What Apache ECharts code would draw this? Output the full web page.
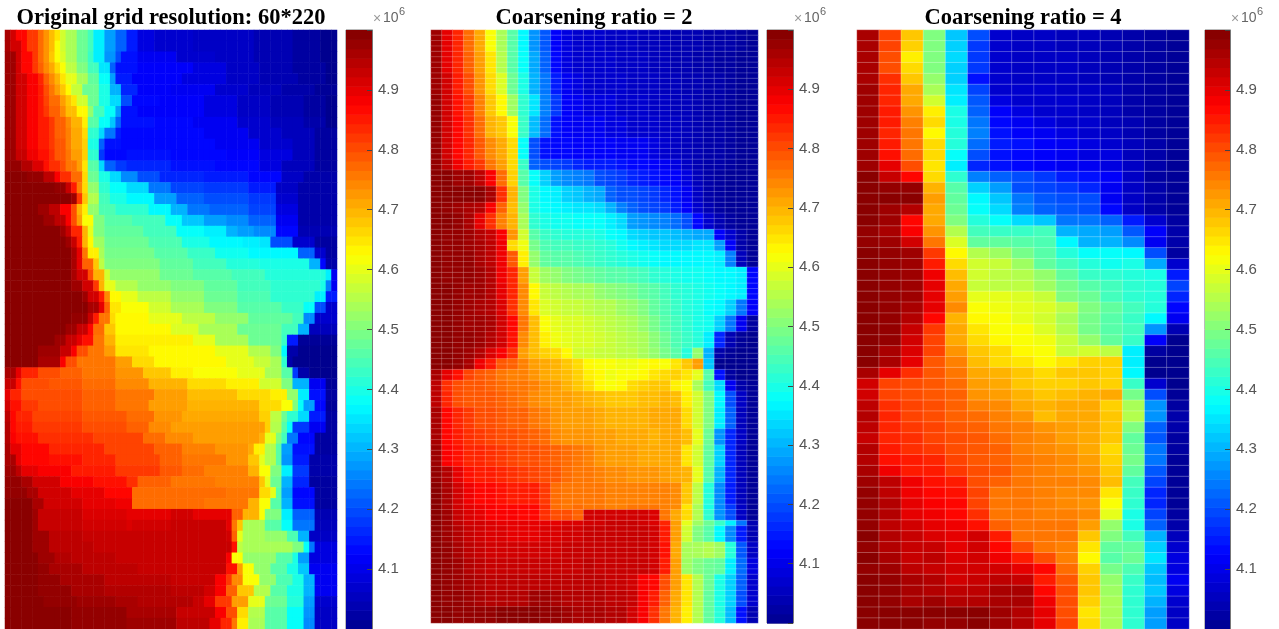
<!DOCTYPE html>
<html><head><meta charset="utf-8">
<style>html,body{margin:0;padding:0;background:#fff;overflow:hidden}#c{width:1279px;height:629px}</style>
<script src="https://cdn.jsdelivr.net/npm/echarts@6/dist/echarts.min.js"></script>
</head><body><div id="c"></div>
<script>
// All cell values: code = (value/1e6 - 4) * 100
const titles = ['Original grid resolution: 60*220','Coarsening ratio = 2','Coarsening ratio = 4'];
const barTicks = [4.1,4.2,4.3,4.4,4.5,4.6,4.7,4.8,4.9];
const jet = ['#00008f','#0000ff','#0080ff','#00ffff','#80ff80','#ffff00','#ff8000','#ff0000','#800000'];

// Panel 1: each row is value,endColumn pairs (60 columns)
const p1Runs = [
[96,1,92,2,87,4,82,6,77,7,73,8,69,9,65,10,58,11,54,13,48,15,44,16,36,18,28,20,22,22,15,24,9,27,7,34,6,45,4,52,2,57,0,60],
[96,1,92,3,87,4,82,6,77,7,73,8,69,9,62,10,58,11,54,13,48,15,44,16,36,18,28,20,22,22,15,24,9,27,7,34,6,45,4,52,2,57,0,60],
[97,2,92,3,87,5,82,6,77,7,73,8,68,9,62,10,59,11,54,13,48,15,43,16,36,18,27,20,20,21,14,24,11,31,7,38,6,45,4,52,2,57,0,60],
[97,2,92,3,87,5,82,6,78,7,74,8,71,9,66,10,62,11,56,13,50,15,44,17,35,19,22,20,14,24,12,34,9,40,6,46,4,52,2,58,0,60],
[97,2,92,4,88,6,84,7,78,8,74,9,70,10,65,11,60,13,54,15,47,17,38,19,28,20,15,23,12,32,9,40,6,46,4,53,2,58,0,60],
[97,2,92,4,88,6,85,7,80,8,76,9,72,10,68,11,63,12,57,14,48,17,40,19,30,21,16,24,12,30,11,38,7,44,5,50,3,56,1,60],
[97,2,92,4,88,6,85,7,81,8,77,10,72,11,68,12,65,13,58,15,48,17,40,19,34,21,20,23,13,28,12,36,9,42,6,48,4,54,2,58,0,60],
[97,2,92,4,88,6,85,7,82,8,78,10,74,11,69,13,63,15,52,16,44,18,38,20,28,21,14,24,12,36,9,42,6,48,4,54,2,58,0,60],
[97,2,92,4,88,6,85,8,82,9,78,11,74,12,70,14,64,15,46,17,38,19,32,20,22,21,14,27,13,34,11,42,7,48,5,54,3,58,0,60],
[97,2,92,4,88,6,85,8,82,9,78,11,75,12,71,14,66,15,42,17,34,18,24,20,15,21,13,36,11,44,7,50,5,56,2,60],
[97,2,92,4,88,6,85,8,82,9,79,11,75,12,71,14,67,15,40,17,22,18,14,21,13,38,11,46,7,52,5,56,2,60],
[97,2,93,4,89,6,86,8,83,9,79,11,76,12,72,14,67,15,42,17,18,18,13,22,14,30,13,40,12,46,9,52,5,56,2,60],
[98,3,95,5,91,7,86,8,83,10,80,11,76,13,72,14,65,15,46,17,34,18,22,20,18,22,16,30,14,38,13,46,9,50,5,56,2,60],
[99,4,98,7,94,9,88,10,83,12,77,14,66,15,48,17,40,19,34,21,26,24,20,28,16,36,15,44,13,50,6,54,3,60],
[99,9,98,11,93,12,85,13,75,14,66,15,52,17,42,19,38,22,34,26,24,30,19,36,18,44,15,49,6,53,3,60],
[99,12,97,13,82,14,68,15,55,17,44,19,40,22,37,27,28,31,22,36,20,44,18,49,7,53,3,60],
[99,6,97,8,94,10,88,12,80,13,70,14,64,15,52,17,45,20,42,26,37,30,30,33,24,37,22,44,19,49,9,53,3,60],
[99,7,97,9,94,11,88,12,80,13,72,14,62,16,50,18,46,23,44,29,38,32,32,36,28,40,26,44,22,49,11,53,3,60],
[99,10,97,11,93,12,84,14,70,15,60,16,50,18,47,25,44,31,38,36,36,40,30,42,28,45,26,49,13,53,4,60],
[99,11,97,12,93,13,85,14,70,15,63,16,53,18,48,26,45,32,40,37,37,43,36,46,35,48,20,52,7,56,2,60],
[99,12,96,13,90,14,76,15,64,17,54,18,49,27,46,33,43,38,39,44,37,53,22,56,7,58,2,60],
[99,12,96,13,90,14,78,16,68,17,56,18,50,28,47,34,44,40,41,46,40,55,30,57,13,58,3,60],
[99,12,96,13,92,15,80,16,70,18,58,19,52,28,48,34,46,41,44,47,41,58,36,59,11,60],
[99,12,97,14,92,16,82,17,70,18,60,20,55,24,52,30,50,36,47,42,44,48,42,57,40,58,25,59,11,60],
[99,14,97,15,92,17,85,18,74,19,63,21,60,24,56,30,52,36,48,42,45,48,42,56,36,58,15,60],
[99,15,96,17,90,18,78,19,65,21,62,26,58,30,54,36,50,42,46,50,43,54,38,56,20,58,7,60],
[99,12,98,15,93,16,85,17,76,19,66,20,63,26,60,32,56,38,52,44,47,52,44,54,26,56,7,60],
[99,11,97,13,93,15,87,16,77,18,68,20,63,30,59,35,54,42,48,50,44,53,30,55,5,60],
[99,9,97,11,93,13,90,14,86,16,76,18,70,20,64,34,60,38,54,44,48,50,43,51,15,53,1,60],
[99,6,97,10,93,12,88,13,80,15,76,18,72,20,65,26,63,38,60,44,55,48,50,50,37,51,3,53,0,60],
[99,6,96,10,88,11,80,13,76,20,72,23,66,27,63,40,60,45,57,48,54,50,42,51,3,52,0,60],
[96,2,90,3,84,6,80,10,78,14,76,20,73,25,68,30,64,34,62,42,60,47,54,50,46,52,18,53,3,55,0,60],
[93,2,86,3,80,8,79,14,77,20,74,26,70,33,66,40,64,46,58,50,50,52,30,55,11,58,1,60],
[90,1,84,3,80,14,78,20,76,27,72,33,69,42,66,48,64,51,52,53,36,55,14,58,2,60],
[92,1,86,3,82,6,80,14,78,20,76,26,72,33,70,46,66,50,62,52,50,53,38,54,28,56,13,58,1,60],
[94,1,87,2,84,5,81,14,79,22,77,27,73,32,71,46,67,48,56,50,48,51,42,53,34,55,15,58,2,60],
[95,1,87,2,85,5,82,14,80,22,78,26,74,30,72,47,67,48,55,50,46,51,38,52,18,55,11,58,2,60],
[95,1,88,2,86,6,83,16,81,25,77,29,74,34,72,46,70,47,60,49,50,50,44,51,24,53,13,56,2,60],
[96,1,90,3,87,8,84,18,81,27,78,32,75,38,73,44,71,45,64,47,55,49,46,50,28,52,14,56,2,60],
[96,2,90,3,87,8,86,14,84,20,81,28,78,32,76,40,73,44,68,46,60,47,55,49,46,50,27,52,15,55,3,60],
[97,2,94,3,90,6,88,12,85,20,82,28,79,32,77,36,75,44,70,46,62,48,50,50,36,52,18,55,3,60],
[98,3,96,5,92,10,88,16,86,22,83,24,78,30,76,38,75,46,68,47,60,48,48,50,30,52,16,55,2,60],
[98,4,96,6,92,12,90,18,87,23,77,40,76,46,66,48,60,49,46,50,28,52,13,56,2,60],
[99,5,96,7,92,14,90,20,89,23,77,36,76,44,70,46,62,48,46,50,30,52,14,56,2,60],
[99,5,97,6,93,14,91,22,90,30,92,34,90,41,78,43,70,46,62,47,50,50,36,52,22,56,4,60],
[99,5,97,6,93,14,92,22,91,23,92,30,93,40,90,41,76,42,68,43,54,47,46,50,38,52,24,56,5,60],
[99,5,97,8,94,14,93,40,92,41,78,42,60,43,54,47,52,51,45,53,30,55,6,60],
[99,5,97,8,94,16,93,41,86,42,56,43,54,52,50,54,38,55,24,56,9,60],
[99,6,97,9,95,12,94,20,93,40,88,41,62,43,52,49,46,52,40,53,28,55,9,60],
[99,6,98,8,96,14,94,24,93,40,86,42,72,43,62,45,52,48,46,51,40,53,32,55,11,60],
[99,6,98,10,96,18,94,30,93,38,88,40,82,41,74,43,62,46,52,49,45,52,40,54,30,56,11,60],
[99,6,98,12,96,18,95,30,94,36,92,38,88,40,78,42,68,45,55,48,46,51,40,54,30,56,11,60],
[99,7,98,13,97,20,96,24,95,34,93,36,90,38,82,41,72,44,60,47,48,51,41,54,28,56,7,60],
[99,12,98,22,96,31,93,38,88,40,80,42,66,44,55,47,46,51,38,54,27,56,6,60],
[99,12,98,22,97,31,94,37,90,39,84,41,76,42,64,44,54,47,46,51,38,54,26,56,6,60]
];

// Panel 2: 30 columns; p2Spans says how many of the 110 grid rows each line covers
const p2Spans = [4,4,4,4,4,4,2,3,3,2,3,2,2,3,3,3,3,3,3,2,2,2,2,3,4,3,4,3,4,1,2,1,3,3,3,3,3,3];
const p2Rows = [
[97,90,84,77,71,62,54,46,37,27,21,12,9,7,7,7,6,6,6,5,5,5,4,4,4,3,3,3,2,1],
[97,90,84,78,72,65,55,46,38,29,22,13,9,7,7,7,7,6,6,6,5,5,4,4,3,3,2,2,1,1],
[97,92,85,80,73,66,59,48,40,30,24,15,11,9,7,7,7,7,6,6,6,5,5,4,4,3,3,2,1,1],
[98,92,86,82,75,68,63,53,42,35,25,18,12,11,9,9,9,7,7,7,6,6,5,5,4,3,3,2,1,1],
[98,92,87,83,77,70,68,62,43,31,23,14,12,11,11,11,9,9,7,7,7,6,6,5,4,3,3,2,1,1],
[98,92,87,84,79,74,71,66,38,20,14,13,13,12,12,12,12,11,11,11,9,7,6,5,4,3,3,2,1,1],
[98,94,89,85,82,76,72,66,43,22,20,19,18,16,15,15,15,14,13,13,12,11,9,6,4,3,3,2,1,1],
[99,99,97,97,94,88,77,67,46,38,33,28,26,25,24,20,19,18,16,15,14,13,12,9,5,3,2,1,1,1],
[99,99,99,99,99,96,83,70,50,40,37,36,33,32,30,29,22,20,20,19,18,16,14,11,6,3,2,1,1,1],
[99,98,97,96,95,88,78,69,52,40,38,37,36,35,35,34,30,25,22,20,19,18,15,12,7,4,2,1,1,1],
[99,99,98,96,90,83,75,70,54,42,40,39,39,38,38,38,36,34,28,27,26,25,23,20,13,7,4,2,1,1],
[99,98,98,97,95,93,88,73,58,46,43,42,41,41,41,40,38,37,34,33,32,32,31,30,29,29,12,7,3,1],
[99,98,98,97,96,94,89,66,61,49,45,44,44,43,43,42,41,39,37,36,35,34,34,34,35,35,28,12,3,1],
[99,98,98,98,96,94,89,79,64,52,47,46,46,45,44,43,42,41,40,39,38,37,37,37,37,37,36,25,5,1],
[99,98,98,98,97,95,89,84,72,57,53,52,50,49,48,47,46,46,45,44,42,41,40,39,39,38,37,37,36,13],
[99,99,98,97,97,95,90,84,74,63,57,56,55,54,54,52,51,50,49,47,46,44,42,41,40,39,38,37,36,13],
[99,99,98,97,96,95,91,83,74,65,59,58,57,57,56,55,55,53,52,50,47,45,43,41,40,38,37,33,24,12],
[99,99,98,97,97,96,92,87,76,69,62,60,59,59,58,57,56,55,54,52,49,46,44,42,40,39,33,24,11,2],
[99,99,98,98,97,95,92,86,74,69,64,61,60,59,59,58,57,56,55,54,51,48,45,43,41,36,16,4,1,0],
[99,99,98,97,95,91,88,83,72,69,67,66,63,58,58,57,57,56,56,54,52,49,46,41,52,30,3,1,0,0],
[99,99,98,96,89,85,79,78,75,72,71,70,68,66,63,62,62,61,61,62,63,62,65,68,72,32,0,0,0,0],
[96,90,86,81,79,78,76,75,75,73,71,70,69,67,64,63,61,62,62,63,65,66,67,65,60,46,14,2,0,0],
[94,83,80,79,79,78,77,76,76,75,73,72,70,68,66,63,62,63,66,67,68,68,64,62,54,44,34,11,3,1],
[94,84,80,79,79,79,78,77,76,74,73,72,72,71,70,69,68,68,68,69,69,70,69,64,58,50,37,20,6,1],
[96,87,84,82,80,80,79,78,78,76,75,73,72,72,72,71,70,70,70,70,71,71,71,66,58,50,36,22,5,1],
[96,87,85,83,82,81,80,80,79,78,77,74,73,73,73,72,72,71,71,71,70,71,71,69,60,48,27,16,6,1],
[97,88,86,84,84,83,82,81,80,80,79,78,77,76,75,73,72,72,72,71,71,71,71,65,58,47,33,16,5,1],
[98,95,90,86,85,85,84,83,82,81,80,79,77,76,76,75,74,74,73,73,73,72,71,70,60,46,30,16,5,1],
[99,96,92,89,87,87,86,85,85,85,82,77,76,76,76,76,75,75,75,75,75,75,74,68,56,41,26,15,5,1],
[99,96,92,90,89,88,87,87,87,87,83,77,76,77,76,76,75,75,76,76,76,75,74,65,54,40,26,18,6,1],
[99,97,93,91,90,88,88,88,87,87,83,80,80,78,92,92,92,92,92,92,91,76,71,66,55,42,27,20,6,1],
[99,97,94,92,92,91,90,90,90,90,90,90,91,91,92,92,93,93,93,92,91,84,72,60,53,48,43,36,24,4],
[99,97,95,93,92,91,91,90,90,90,91,91,92,92,93,93,93,93,93,93,92,85,72,58,50,46,37,26,15,4],
[99,98,96,94,93,92,92,92,92,92,92,92,93,93,93,93,93,93,93,93,92,86,71,54,54,55,53,41,21,6],
[99,98,97,95,94,93,93,93,93,93,93,93,93,93,94,93,93,93,93,93,92,85,72,53,50,48,47,36,23,9],
[99,98,97,96,95,94,94,94,94,94,94,94,94,94,94,94,93,93,92,88,87,80,72,65,55,48,40,33,22,7],
[99,98,98,97,96,95,95,95,95,97,97,96,95,95,95,95,94,94,93,88,85,78,71,65,55,47,40,33,20,7],
[99,99,98,98,98,98,99,99,99,99,98,98,97,96,96,96,95,95,92,88,83,76,70,64,55,47,41,31,14,4]
];

// Panel 3: 15 columns, 55 rows
const p3Rows = [
[96,81,68,50,32,20,7,6,6,5,5,4,3,2,1],
[96,81,67,50,33,18,7,6,6,5,5,4,3,2,1],
[96,80,64,50,34,18,7,6,6,6,5,4,3,2,1],
[96,80,66,50,33,18,7,6,6,6,5,4,3,2,1],
[96,83,68,52,33,14,7,6,6,6,5,4,3,2,1],
[97,84,71,54,35,19,7,7,7,6,6,5,3,2,1],
[97,84,71,58,36,21,9,7,7,7,6,5,3,2,1],
[97,85,73,64,40,22,12,9,7,7,6,5,3,2,1],
[97,85,75,66,40,24,13,11,9,7,7,5,4,2,1],
[97,84,76,63,41,25,14,12,11,9,7,6,4,2,1],
[97,85,76,66,41,23,15,14,12,11,9,7,5,3,1],
[97,86,77,66,38,20,14,13,12,11,9,9,5,3,1],
[97,90,80,65,36,16,14,13,12,11,11,9,6,3,1],
[99,93,87,66,42,25,22,20,18,15,14,12,6,2,1],
[99,98,98,70,46,33,28,20,19,18,16,11,6,3,1],
[99,99,99,72,47,37,32,24,21,20,20,11,6,3,1],
[99,97,95,71,48,38,34,25,22,21,20,13,6,3,1],
[99,97,87,71,50,41,38,34,32,24,24,22,15,7,2],
[98,96,88,73,55,44,43,43,44,30,29,28,21,12,3],
[98,97,92,76,59,47,47,46,45,37,30,30,26,11,3],
[99,98,97,82,63,55,53,49,46,41,38,38,37,20,2],
[99,98,97,85,66,58,57,53,47,44,41,39,40,29,7],
[99,98,97,89,69,58,56,55,52,47,43,42,41,40,15],
[99,98,97,90,71,57,56,56,53,49,46,44,42,41,19],
[99,98,97,90,72,60,60,59,57,50,48,44,42,41,16],
[99,98,96,90,74,62,61,60,59,56,50,47,44,41,13],
[99,98,95,87,70,63,62,60,58,54,49,46,43,37,11],
[99,98,93,82,71,65,62,62,59,55,49,46,44,27,4],
[99,98,92,81,71,66,63,62,61,57,52,47,43,12,0],
[99,96,91,81,73,68,66,63,62,57,58,56,36,2,0],
[99,96,90,79,75,69,66,65,63,65,67,67,36,0,0],
[96,90,83,79,76,71,70,68,66,68,68,67,37,0,0],
[92,81,80,79,77,72,71,68,67,67,68,67,43,7,0],
[92,81,80,79,78,73,72,70,68,69,70,71,49,20,1],
[94,83,81,80,78,75,74,71,70,71,71,67,54,27,2],
[95,84,81,80,78,77,75,73,69,71,71,68,55,27,3],
[94,84,82,81,79,78,76,75,73,72,71,68,50,22,3],
[93,84,83,81,80,79,77,75,74,72,71,68,47,21,2],
[95,85,83,82,80,79,78,75,74,73,71,66,48,24,2],
[95,86,85,84,81,79,78,76,75,74,72,67,49,24,1],
[96,89,85,85,82,80,79,76,75,74,73,68,47,21,1],
[97,94,89,86,85,80,78,76,75,75,74,69,44,19,1],
[98,94,89,87,86,81,76,76,75,74,74,65,43,16,1],
[98,95,90,88,87,81,76,76,75,74,73,62,42,16,1],
[98,95,90,89,87,83,76,76,75,75,74,60,40,19,2],
[98,94,92,90,89,86,78,76,76,76,72,52,40,22,3],
[99,95,93,91,90,92,85,76,76,76,68,50,44,30,5],
[98,95,93,93,90,92,87,80,76,75,65,47,47,33,7],
[99,96,93,94,91,92,89,85,80,75,63,46,48,35,9],
[98,97,94,93,92,92,92,90,87,77,67,49,45,32,9],
[99,98,96,95,92,93,94,93,85,79,68,52,43,31,11],
[99,98,96,95,94,94,96,96,87,80,68,53,42,32,9],
[99,98,96,97,95,95,96,96,89,80,67,54,42,30,7],
[99,99,99,99,99,99,97,95,90,80,65,54,42,28,6],
[99,99,99,98,98,99,97,95,90,81,66,54,42,28,6]
];

function fromRuns(rows){return rows.map(r=>{const o=[];for(let i=0;i<r.length;i+=2){while(o.length<r[i+1])o.push(r[i]);}return o;});}
function fromSpans(rows,spans){const o=[];rows.forEach((r,i)=>{for(let k=0;k<spans[i];k++)o.push(r);});return o;}
function cells(rows){const d=[];rows.forEach((r,y)=>r.forEach((v,x)=>d.push([x,y,v])));return d;}
function ids(n){return Array.from({length:n},(_,i)=>i);}

const panels = [
 {rows:fromRuns(p1Runs), left:5,   width:332, top:30, height:600, line:0, barLeft:346, barWidth:26, title:166},
 {rows:fromSpans(p2Rows,p2Spans), left:431, width:327, top:30, height:593, line:0.2, barLeft:767, barWidth:26, title:589},
 {rows:p3Rows, left:857, width:332, top:30, height:600, line:0.25, barLeft:1205, barWidth:25, title:1018}
];
const levels = ids(64).map(i=>[4+i/64,4+(i+1)/64,(i+0.5)/64*100]);

const option = {animation:false, backgroundColor:'#fff', grid:[], xAxis:[], yAxis:[], series:[], title:[], graphic:[],
 visualMap:{show:false,type:'continuous',min:0,max:100,dimension:2,seriesIndex:[0,1,2,3,4,5],inRange:{color:jet}}};

panels.forEach((p,i)=>{
 option.grid.push({left:p.left,top:p.top,width:p.width,height:p.height});
 option.xAxis.push({type:'category',gridIndex:i,show:false,data:ids(p.rows[0].length)});
 option.yAxis.push({type:'category',gridIndex:i,show:false,inverse:true,data:ids(p.rows.length)});
 option.series.push({type:'heatmap',xAxisIndex:i,yAxisIndex:i,data:cells(p.rows),progressive:0,silent:true,
   itemStyle:p.line?{borderColor:'rgba(255,255,255,'+p.line+')',borderWidth:1}:{borderWidth:0},emphasis:{disabled:true}});
 option.title.push({text:titles[i],left:p.title,top:2,textAlign:'center',
   textStyle:{fontFamily:'Liberation Serif',fontWeight:'bold',fontSize:22.5,color:'#000'}});
});
panels.forEach((p,i)=>{
 const g=i+3;
 option.grid.push({left:p.barLeft,top:p.top,width:p.barWidth,height:p.height,show:true,borderColor:'#777',borderWidth:1,backgroundColor:'transparent'});
 option.xAxis.push({type:'value',gridIndex:g,show:false,min:0,max:1});
 option.yAxis.push({type:'value',gridIndex:g,position:'right',min:4,max:5,interval:0.1,z:10,
   axisLine:{show:true,onZero:false,lineStyle:{color:'#777'}},
   axisTick:{show:true,inside:true,length:5,lineStyle:{color:'#444'}},
   splitLine:{show:false},
   axisLabel:{margin:6,padding:[3,0,0,0],fontFamily:'Liberation Sans',fontSize:15,color:'#555',
     formatter:v=>barTicks.some(t=>Math.abs(t-v)<1e-6)?v.toFixed(1):''}});
 option.series.push({type:'custom',xAxisIndex:g,yAxisIndex:g,data:levels,silent:true,clip:false,
   encode:{y:[0,1]},
   renderItem:(params,api)=>{
     const a=api.coord([0,api.value(1)]),b=api.coord([1,api.value(0)]);
     return {type:'rect',shape:{x:a[0],y:a[1],width:b[0]-a[0],height:b[1]-a[1]+0.6},style:{fill:api.visual('color')}};
   }});
 const x=p.barLeft+p.barWidth;
 option.graphic.push(
  {type:'text',left:x+1,top:12,style:{text:'×',font:'14px "Liberation Sans"',fill:'#999'}},
  {type:'text',left:x+11,top:11,style:{text:'10',font:'14px "Liberation Sans"',fill:'#666'}},
  {type:'text',left:x+27,top:6,style:{text:'6',font:'11px "Liberation Sans"',fill:'#666'}});
});
echarts.init(document.getElementById('c'),null,{renderer:'canvas'}).setOption(option);
</script></body></html>
